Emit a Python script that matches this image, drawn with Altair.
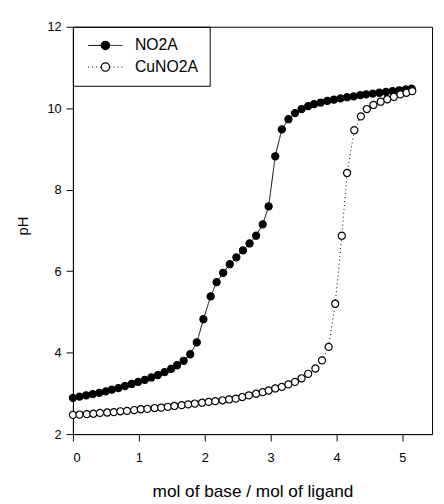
import altair as alt
import pandas as pd

series_names = ["NO2A", "CuNO2A"]
marker_names = ["filled", "open"]

no2a_x = [0, 0.1, 0.2, 0.3, 0.4, 0.5, 0.59, 0.69, 0.79, 0.89, 0.99, 1.09, 1.19, 1.29, 1.39,
          1.49, 1.58, 1.68, 1.78, 1.88, 1.98, 2.09, 2.18, 2.28, 2.38, 2.48, 2.58, 2.68, 2.78,
          2.88, 2.97, 3.07, 3.17, 3.27, 3.37, 3.47, 3.57, 3.66, 3.76, 3.86, 3.96, 4.06, 4.16,
          4.26, 4.36, 4.45, 4.55, 4.65, 4.75, 4.85, 4.95, 5.05, 5.14]
no2a_ph = [2.89, 2.92, 2.95, 2.98, 3.01, 3.05, 3.09, 3.13, 3.18, 3.23, 3.28, 3.33, 3.39, 3.45,
           3.52, 3.60, 3.69, 3.80, 3.96, 4.25, 4.82, 5.38, 5.73, 5.96, 6.17, 6.34, 6.51, 6.68,
           6.87, 7.15, 7.59, 8.82, 9.48, 9.73, 9.88, 9.98, 10.05, 10.10, 10.14, 10.18, 10.21,
           10.24, 10.27, 10.29, 10.32, 10.34, 10.36, 10.38, 10.40, 10.42, 10.44, 10.46, 10.48]

cuno2a_x = [0, 0.1, 0.21, 0.31, 0.41, 0.52, 0.62, 0.72, 0.82, 0.93, 1.03, 1.13, 1.24, 1.34,
            1.44, 1.54, 1.65, 1.75, 1.85, 1.96, 2.06, 2.16, 2.27, 2.37, 2.47, 2.57, 2.67, 2.78,
            2.88, 2.97, 3.07, 3.17, 3.27, 3.37, 3.47, 3.57, 3.68, 3.78, 3.88, 3.98, 4.08, 4.16,
            4.27, 4.37, 4.46, 4.56, 4.67, 4.77, 4.87, 4.97, 5.06, 5.15]
cuno2a_ph = [2.47, 2.48, 2.49, 2.50, 2.52, 2.53, 2.54, 2.56, 2.57, 2.59, 2.61, 2.62, 2.64, 2.65,
             2.67, 2.69, 2.71, 2.73, 2.75, 2.77, 2.79, 2.81, 2.83, 2.85, 2.87, 2.91, 2.95, 2.99,
             3.03, 3.07, 3.12, 3.16, 3.22, 3.28, 3.37, 3.48, 3.61, 3.81, 4.14, 5.20, 6.87, 8.41,
             9.46, 9.80, 9.98, 10.08, 10.16, 10.22, 10.28, 10.34, 10.38, 10.42]

x_ticks = [0, 1, 2, 3, 4, 5]
y_ticks = [2, 4, 6, 8, 10, 12]

rows = []
for name, marker, xs, ys in ((series_names[0], marker_names[0], no2a_x, no2a_ph),
                             (series_names[1], marker_names[1], cuno2a_x, cuno2a_ph)):
    for xv, yv in zip(xs, ys):
        rows.append({"series": name, "marker": marker, "x": xv, "pH": yv})
df = pd.DataFrame(rows)

FONT = "Liberation Sans"
LINE_PATH = "M-3.5,0L-0.85,0M0.85,0L3.5,0"
CIRCLE_PATH = "M0.85,0A0.85,0.85,0,1,1,-0.85,0A0.85,0.85,0,1,1,0.85,0Z"

PLOT_W = 365
x_enc = alt.X("x:Q", scale=alt.Scale(domain=[0, 5.45], nice=False, zero=False),
              axis=alt.Axis(values=x_ticks, title="mol of base / mol of ligand", tickSize=7,
                            labelPadding=11, labelFontSize=13, titleFontSize=17.5,
                            titleX=PLOT_W / 2, titleY=58, titleAlign="center", titleBaseline="middle"))
y_enc = alt.Y("pH:Q", scale=alt.Scale(domain=[2, 12], nice=False, zero=False),
              axis=alt.Axis(values=y_ticks, title="pH", tickSize=7, labelPadding=5,
                            labelFontSize=13, titleFontSize=15, titleAngle=270,
                            titleX=-51, titleY=202, titleAlign="center", titleBaseline="middle"))

common_legend = dict(title=None, orient="none", legendX=0, legendY=0, symbolSize=100,
                     labelFont=FONT, labelFontSize=16, labelColor="black", labelOffset=22,
                     symbolOffset=14, padding=11, rowPadding=6, direction="vertical")

lines = alt.Chart(df).mark_line(color="black", strokeWidth=1).encode(
    x=x_enc, y=y_enc,
    strokeDash=alt.StrokeDash(
        "series:N",
        scale=alt.Scale(domain=series_names, range=[[1, 0], [1, 3]]),
        legend=alt.Legend(symbolType=LINE_PATH, symbolStrokeWidth=1, symbolStrokeColor="black",
                          strokeColor="black", **common_legend),
    ),
)

points = alt.Chart(df).mark_point(filled=True, size=52, stroke="black", strokeWidth=1.2, opacity=1).encode(
    x=x_enc, y=y_enc,
    fill=alt.Fill(
        "marker:N",
        scale=alt.Scale(domain=marker_names, range=["black", "white"]),
        legend=alt.Legend(symbolType=CIRCLE_PATH, symbolStrokeWidth=1.2, symbolStrokeColor="black",
                          labelExpr="''", **common_legend),
    ),
)

chart = alt.layer(lines, points).properties(
    width=PLOT_W, height=414,
    padding={"left": 66, "top": 15, "right": 4, "bottom": 67},
    autosize=alt.AutoSizeParams(type="none"),
    background="white",
).configure(font=FONT).configure_view(stroke="black", strokeWidth=1).configure_axis(
    domainColor="black", domainWidth=1, tickColor="black", tickWidth=1,
    labelColor="black", titleColor="black", labelFont=FONT, titleFont=FONT,
    titleFontWeight="normal", grid=False,
)

chart.save("out.html", embed_options={"renderer": "svg", "actions": False})
